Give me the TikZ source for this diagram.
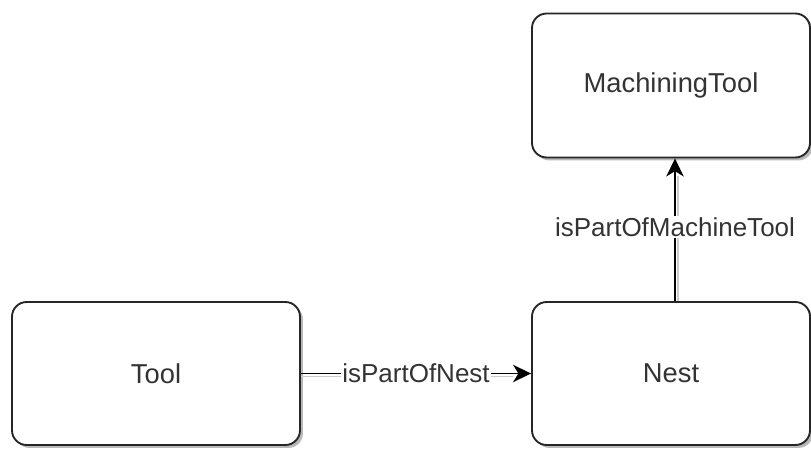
\documentclass[tikz,border=0pt]{standalone}
\usepackage{fontspec}
\setmainfont{Liberation Sans}
\usetikzlibrary{shadows,arrows.meta,calc}
\begin{document}
\begin{tikzpicture}[x=0.75pt,y=-0.75pt,
  box/.style={draw=black!85, line width=1.4pt, rounded corners=11pt, fill=white,
    drop shadow={shadow xshift=2.2pt, shadow yshift=-2.2pt, fill=black!35, opacity=0.8},
    font=\fontsize{20.5}{24}\selectfont, text=black!80, inner sep=0pt},
  conn/.style={line width=1.4pt, draw=black, -{Stealth[length=13.5pt,width=13pt,inset=4pt]}},
  connshadow/.style={line width=1.4pt, draw=black!20},
  lbl/.style={fill=white, inner sep=1pt, font=\fontsize{19.5}{23}\selectfont, text=black!80}]
\useasboundingbox (0,0) rectangle (811,449);
\node[box, minimum width=288*0.75pt, minimum height=143*0.75pt] (tool) at (156,373.5) {Tool};
\node[box, minimum width=278*0.75pt, minimum height=143*0.75pt] (nest) at (671,373.5) {Nest};
\node[box, minimum width=278*0.75pt, minimum height=144*0.75pt] (mt) at (671,85.5) {MachiningTool};
\coordinate (nup) at ($(nest.north)+(4,0)$);
\coordinate (mdown) at ($(mt.south)+(4,0)$);
% edge shadows
\draw[connshadow] ($(tool.east)+(0,3)$) -- ($(nest.west)+(-18,3)$);
\draw[connshadow] ($(nup)+(3,0)$) -- ($(mdown)+(3,18)$);
% edges
\draw[conn] (tool.east) -- node[lbl] (l1) {isPartOfNest} (nest.west);
\draw[conn] (nup) -- node[lbl, pos=0.52] (l2) {isPartOfMachineTool} (mdown);
\end{tikzpicture}
\end{document}
